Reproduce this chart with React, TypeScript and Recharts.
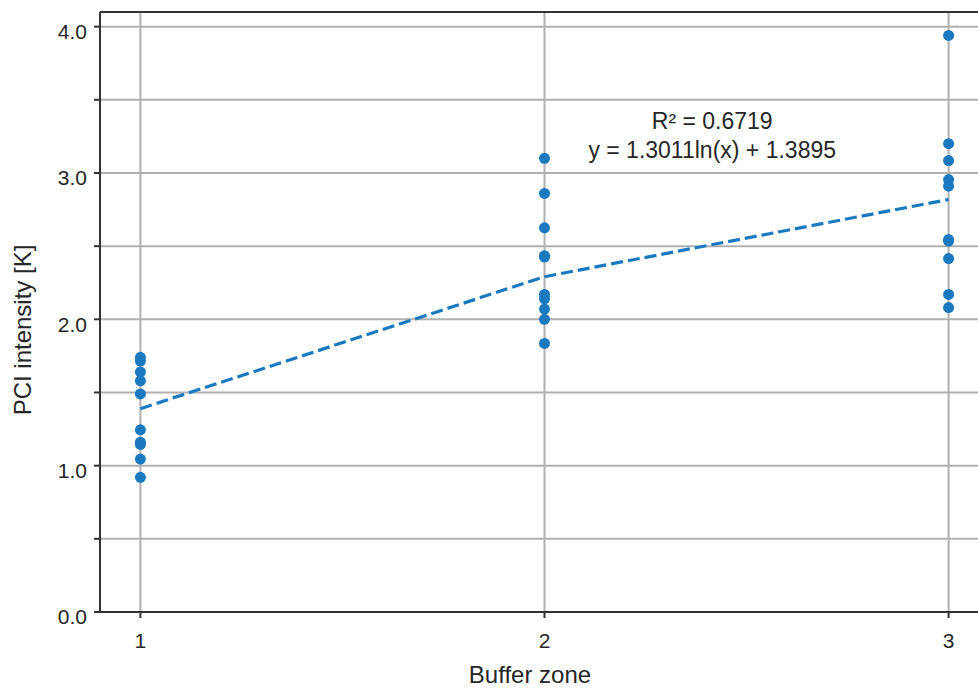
import React from 'react';
import { ScatterChart, Scatter, XAxis, YAxis, CartesianGrid, ReferenceLine, ReferenceDot, Label } from 'recharts';

const zones = [1, 2, 3];
const zone1Values = [1.74, 1.715, 1.64, 1.58, 1.49, 1.245, 1.16, 1.145, 1.045, 0.92];
const zone2Values = [3.1, 2.86, 2.625, 2.435, 2.425, 2.17, 2.14, 2.07, 2.0, 1.835];
const zone3Values = [3.94, 3.2, 3.085, 2.955, 2.91, 2.545, 2.535, 2.415, 2.17, 2.08];
const trendValues = [1.3895, 2.2913, 2.8189];
const xTicks = [1, 2, 3];
const yTicks = [0, 0.5, 1, 1.5, 2, 2.5, 3, 3.5, 4];
const fitLines = ['R² = 0.6719', 'y = 1.3011ln(x) + 1.3895'];
const xLabel = 'Buffer zone';
const yLabel = 'PCI intensity [K]';

const BLUE = '#1b79bf';
const AXIS = '#333333';
const GRID = '#b0b0b0';
const TEXT = '#262626';
const FONT = '"Liberation Sans", Arial, sans-serif';

const points = [
  ...zone1Values.map((y) => ({ x: zones[0], y })),
  ...zone2Values.map((y) => ({ x: zones[1], y })),
  ...zone3Values.map((y) => ({ x: zones[2], y })),
];
const trend = zones.map((x, i) => ({ x, y: trendValues[i] }));

const Dot = (p: any) => <circle cx={p.cx} cy={p.cy} r={5.5} fill={BLUE} />;
const NoDot = () => <g />;

const YTick = (p: any) => {
  const v = p.payload?.value;
  if (!Number.isInteger(v)) return <g />;
  return (
    <text x={p.x} y={p.y + 5} dy="0.355em" textAnchor="end" fontSize={21} fill={TEXT} fontFamily={FONT}>
      {Number(v).toFixed(1)}
    </text>
  );
};

const FitLabel = (p: any) => {
  const vb = p.viewBox || {};
  const cx = (vb.x || 0) + (vb.width || 0) / 2;
  const cy = (vb.y || 0) + (vb.height || 0) / 2;
  return (
    <g>
      <text x={cx} y={cy - 14} textAnchor="middle" fontSize={23} fill={TEXT} fontFamily={FONT}>
        {fitLines[0]}
      </text>
      <text x={cx} y={cy + 15} textAnchor="middle" fontSize={23} fill={TEXT} fontFamily={FONT}>
        {fitLines[1]}
      </text>
    </g>
  );
};

export default function App() {
  return (
    <div style={{ position: 'absolute', left: 0, top: 0, width: 978, height: 688, overflow: 'hidden', background: '#fff' }}>
      <ScatterChart width={1000} height={688} margin={{ top: 12, right: 11, bottom: 0, left: 0 }} style={{ fontFamily: FONT }}>
        <CartesianGrid stroke={GRID} strokeWidth={2} />
        <XAxis
          type="number"
          dataKey="x"
          domain={[0.9, 3.1]}
          ticks={xTicks}
          allowDataOverflow
          height={76}
          tickSize={6}
          tickMargin={15}
          axisLine={{ stroke: AXIS, strokeWidth: 2 }}
          tickLine={{ stroke: AXIS, strokeWidth: 2 }}
          tick={{ fill: TEXT, fontSize: 21, fontFamily: FONT }}
        >
          <Label
            content={() => (
              <text x={530} y={683} textAnchor="middle" fontSize={24} fill={TEXT} fontFamily={FONT}>
                {xLabel}
              </text>
            )}
          />
        </XAxis>
        <YAxis
          type="number"
          dataKey="y"
          domain={[0, 4.1]}
          ticks={yTicks}
          allowDataOverflow
          width={100}
          tickSize={6}
          tickMargin={7}
          axisLine={{ stroke: AXIS, strokeWidth: 2 }}
          tickLine={{ stroke: AXIS, strokeWidth: 2 }}
          tick={YTick}
        >
          <Label
            content={() => (
              <text
                transform="translate(31, 330) rotate(-90)"
                textAnchor="middle"
                fontSize={24}
                fill={TEXT}
                fontFamily={FONT}
              >
                {yLabel}
              </text>
            )}
          />
        </YAxis>
        <ReferenceLine y={4.1} stroke={AXIS} strokeWidth={2} />
        <ReferenceLine x={3.1} stroke={AXIS} strokeWidth={2} />
        <Scatter data={points} fill={BLUE} shape={Dot} isAnimationActive={false} />
        <Scatter
          data={trend}
          fill={BLUE}
          shape={NoDot}
          line={{ stroke: BLUE, strokeWidth: 3.2, strokeDasharray: '12 5' }}
          isAnimationActive={false}
        />
        <ReferenceDot x={2.415} y={3.208} r={1} fill="none" stroke="none" label={FitLabel} />
      </ScatterChart>
    </div>
  );
}
